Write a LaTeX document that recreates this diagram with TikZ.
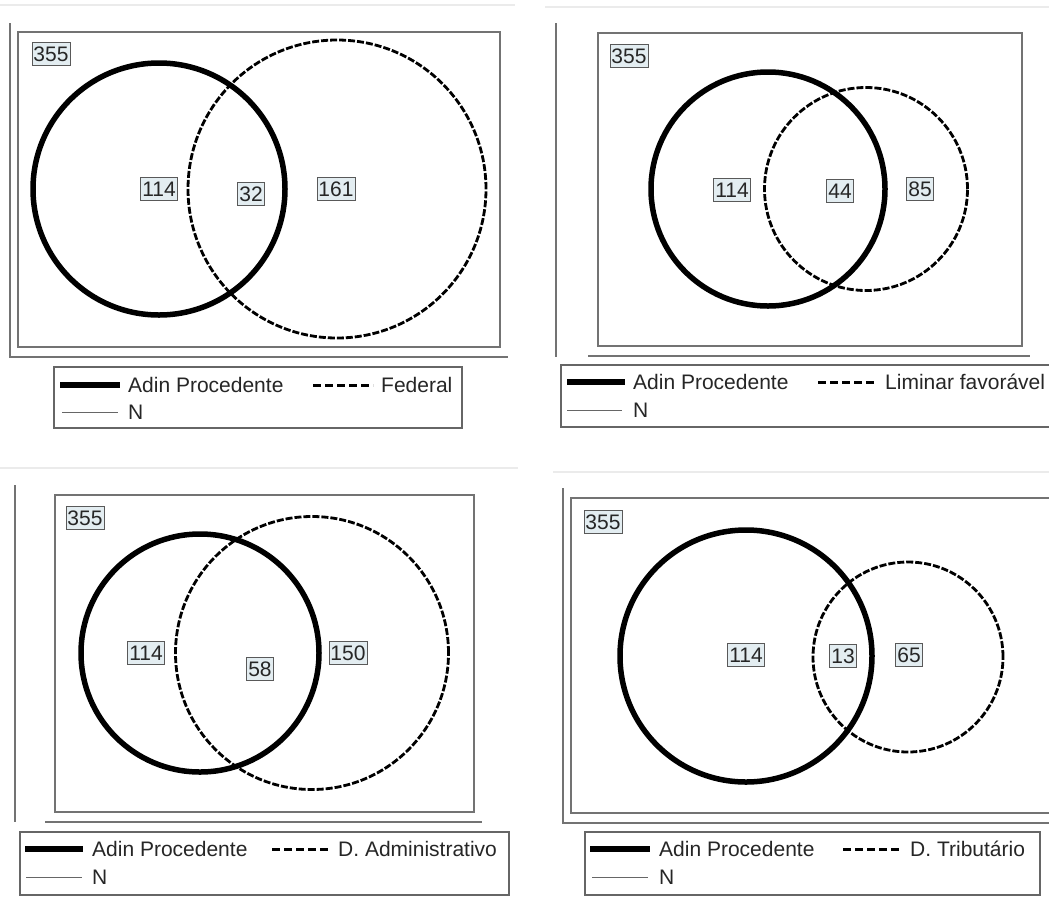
\documentclass[tikz,border=0pt]{standalone}
\usepackage{fontspec}
\setmainfont{Liberation Sans}
\definecolor{labfill}{HTML}{E3EDF1}
\begin{document}
\begin{tikzpicture}[x=1pt,y=-1pt,
  frameline/.style={draw=black!55,line width=1.4pt},
  toplinestyle/.style={draw=black!8,line width=1.5pt},
  plotbox/.style={draw=black!55,line width=1.4pt},
  setA/.style={circle,draw=black,line width=5.5pt,inner sep=0pt},
  setB/.style={circle,draw=black,line width=2.8pt,dash pattern=on 7pt off 2pt,inner sep=0pt},
  numlab/.style={draw=black!65,fill=labfill,line width=0.9pt,font=\fontsize{21}{21}\selectfont,text=black!85,inner xsep=1.5pt,inner ysep=0pt,minimum height=23pt},
  legbox/.style={draw=black!60,line width=1.3pt},
  legtext/.style={anchor=west,font=\fontsize{21}{21}\selectfont,text=black!85,inner sep=0pt},
  legA/.style={line width=6pt,draw=black},
  legB/.style={line width=3pt,draw=black,dash pattern=on 8pt off 4pt},
  legN/.style={line width=1pt,draw=black!60}
]
\useasboundingbox[fill=white] (0,0) rectangle (1049,903);

% ---------------- Panel 1 (top-left) ----------------
\draw[toplinestyle] (0,5) -- (515,5);
\draw[frameline] (10,23) -- (10,357) -- (508,357);
\draw[plotbox] (18,32) rectangle (500,347);
\node[setB,minimum size=298pt] (B1) at (337,189) {};
\node[setA,minimum size=252pt] (A1) at (159,189) {};
\node[numlab] (N1) at (51,54) {355};
\node[numlab] (a1) at (159,189) {114};
\node[numlab] (ab1) at (251,194) {32};
\node[numlab] (b1) at (336,189) {161};
\draw[legbox] (54,367) rectangle (462,428);
\coordinate (l1a) at (60,385); \coordinate (l1b) at (120,385);
\draw[legA] (l1a) -- (l1b);
\node[legtext] (t1a) at (128,385) {Adin Procedente};
\coordinate (l1c) at (313,385); \coordinate (l1d) at (373,385);
\draw[legB] (l1c) -- (l1d);
\node[legtext] (t1b) at (381,385) {Federal};
\coordinate (l1e) at (62,412); \coordinate (l1f) at (118,412);
\draw[legN] (l1e) -- (l1f);
\node[legtext] (t1n) at (128,412) {N};

% ---------------- Panel 2 (top-right) ----------------
\draw[toplinestyle] (545,7) -- (1049,7);
\draw[frameline] (556,23) -- (556,357);
\draw[frameline] (588,356) -- (1030,356);
\draw[plotbox] (598,33) rectangle (1022,346);
\node[setB,minimum size=203pt] (B2) at (866,189) {};
\node[setA,minimum size=234pt] (A2) at (768,189) {};
\node[numlab] (N2) at (629,56) {355};
\node[numlab] (a2) at (732,190) {114};
\node[numlab] (ab2) at (840,191) {44};
\node[numlab] (b2) at (920,189) {85};
\draw[legbox] (1053,365) -- (561,365) -- (561,427) -- (1053,427);
\coordinate (l2a) at (567,382); \coordinate (l2b) at (625,382);
\draw[legA] (l2a) -- (l2b);
\node[legtext] (t2a) at (633,382) {Adin Procedente};
\coordinate (l2c) at (818,382); \coordinate (l2d) at (876,382);
\draw[legB] (l2c) -- (l2d);
\node[legtext] (t2b) at (885,382) {Liminar favorável};
\coordinate (l2e) at (567,410); \coordinate (l2f) at (622,410);
\draw[legN] (l2e) -- (l2f);
\node[legtext] (t2n) at (633,410) {N};

% ---------------- Panel 3 (bottom-left) ----------------
\draw[toplinestyle] (0,468) -- (518,468);
\draw[frameline] (15,485) -- (15,822);
\draw[frameline] (45,822) -- (482,822);
\draw[plotbox] (55,495) rectangle (474,812);
\node[setB,minimum size=273pt] (B3) at (312,653) {};
\node[setA,minimum size=238pt] (A3) at (200,653) {};
\node[numlab] (N3) at (85,518) {355};
\node[numlab] (a3) at (146,653) {114};
\node[numlab] (ab3) at (260,669) {58};
\node[numlab] (b3) at (348,653) {150};
\draw[legbox] (20,832) rectangle (509,895);
\coordinate (l3a) at (25,849); \coordinate (l3b) at (83,849);
\draw[legA] (l3a) -- (l3b);
\node[legtext] (t3a) at (92,849) {Adin Procedente};
\coordinate (l3c) at (272,849); \coordinate (l3d) at (330,849);
\draw[legB] (l3c) -- (l3d);
\node[legtext] (t3b) at (338,849) {D. Administrativo};
\coordinate (l3e) at (26,877); \coordinate (l3f) at (82,877);
\draw[legN] (l3e) -- (l3f);
\node[legtext] (t3n) at (92,877) {N};

% ---------------- Panel 4 (bottom-right) ----------------
\draw[toplinestyle] (553,472) -- (1049,472);
\draw[frameline] (563,488) -- (563,823) -- (1053,823);
\draw[plotbox] (1053,498) -- (571,498) -- (571,813) -- (1053,813);
\node[setB,minimum size=190pt] (B4) at (908,657) {};
\node[setA,minimum size=252pt] (A4) at (746,656) {};
\node[numlab] (N4) at (603,522) {355};
\node[numlab] (a4) at (746,655) {114};
\node[numlab] (ab4) at (843,656) {13};
\node[numlab] (b4) at (909,655) {65};
\draw[legbox] (585,832) rectangle (1040,895);
\coordinate (l4a) at (590,849); \coordinate (l4b) at (650,849);
\draw[legA] (l4a) -- (l4b);
\node[legtext] (t4a) at (659,849) {Adin Procedente};
\coordinate (l4c) at (843,849); \coordinate (l4d) at (902,849);
\draw[legB] (l4c) -- (l4d);
\node[legtext] (t4b) at (910,849) {D. Tributário};
\coordinate (l4e) at (592,877); \coordinate (l4f) at (648,877);
\draw[legN] (l4e) -- (l4f);
\node[legtext] (t4n) at (659,877) {N};
\end{tikzpicture}
\end{document}
